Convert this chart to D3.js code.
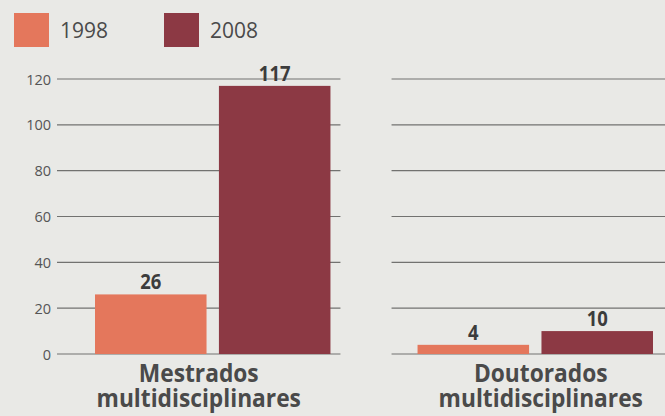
<!DOCTYPE html>
<html><head><meta charset="utf-8">
<script src="https://cdn.jsdelivr.net/npm/d3@7"></script>
<style>
html,body{margin:0;padding:0;background:#e9e9e6;}
svg{display:block;}
</style></head>
<body>
<svg id="c" width="665" height="416"></svg>
<script>
const categories = ["Mestrados multidisciplinares", "Doutorados multidisciplinares"];
const seriesNames = ["1998", "2008"];
const values1998 = [26, 4];
const values2008 = [117, 10];
const yTicks = [0, 20, 40, 60, 80, 100, 120];
const colors = ["#e4775c", "#8c3944"];

const svg = d3.select("#c");
const W = 665, H = 416;
svg.append("rect").attr("width", W).attr("height", H).attr("fill", "#e9e9e6");

const y = d3.scaleLinear().domain([0, 120]).range([354, 79]);
const x0 = d3.scaleBand().domain(categories).range([95, 653]).paddingInner(0.27).paddingOuter(0);
const x1 = d3.scaleBand().domain(seriesNames).range([0, x0.bandwidth()]).paddingInner(0.1);

const data = categories.map((c, i) => ({cat: c, vals: [values1998[i], values2008[i]], i}));

// gridlines per panel (panel extents relative to band)
const gridExt = [[-38, 10], [-26, 37]];
categories.forEach((c, i) => {
  const g = svg.append("g");
  g.selectAll("line").data(yTicks).join("line")
    .attr("x1", x0(c) + gridExt[i][0])
    .attr("x2", x0(c) + x0.bandwidth() + gridExt[i][1])
    .attr("y1", d => y(d)).attr("y2", d => y(d))
    .attr("stroke", "#727270").attr("stroke-width", 1.2);
});

// y axis labels
const yAxis = d3.axisLeft(y).tickValues(yTicks).tickSize(0).tickPadding(0);
const ga = svg.append("g").attr("transform", "translate(51,0)").call(yAxis);
ga.select(".domain").remove();
ga.selectAll("text").attr("font-family", "'Open Sans', sans-serif").attr("font-size", 14.5)
  .attr("fill", "#555").attr("dy", "0.35em");

// bars
const groups = svg.selectAll("g.cat").data(data).join("g").attr("class", "cat")
  .attr("transform", d => `translate(${x0(d.cat)},0)`);
groups.selectAll("rect").data(d => d.vals.map((v, j) => ({s: seriesNames[j], v, j})))
  .join("rect")
  .attr("x", d => x1(d.s)).attr("width", x1.bandwidth())
  .attr("y", d => y(d.v)).attr("height", d => y(0) - y(d.v))
  .attr("fill", d => colors[d.j]);
groups.selectAll("text.val").data(d => d.vals.map((v, j) => ({s: seriesNames[j], v, j})))
  .join("text").attr("class", "val")
  .attr("x", d => x1(d.s) + x1.bandwidth() / 2)
  .attr("y", d => y(d.v) - 5)
  .attr("text-anchor", "middle")
  .attr("font-family", "'Open Sans', sans-serif").attr("font-weight", 700)
  .attr("font-size", 21).attr("fill", "#3c3c3c")
  .attr("transform", d => { const cx = x1(d.s) + x1.bandwidth() / 2; return `translate(${cx},0) scale(0.88,1) translate(${-cx},0)`; })
  .text(d => d.v);

// category labels, centred on each panel
groups.each(function(d) {
  const g = d3.select(this);
  const ext = gridExt[d.i];
  const cx = ext[0] + (x0.bandwidth() + ext[1] - ext[0]) / 2;
  const words = d.cat.split(" ");
  [382, 407].forEach((yy, k) => {
    g.append("text").attr("text-anchor", "middle")
      .attr("font-family", "'Open Sans', sans-serif").attr("font-weight", 700)
      .attr("font-size", 25).attr("fill", "#4a4a4a")
      .attr("transform", `translate(${cx},${yy}) scale(0.91,1)`)
      .text(words[k]);
  });
});

// legend
const leg = svg.append("g");
const legX = [14, 164];
seriesNames.forEach((s, i) => {
  leg.append("rect").attr("x", legX[i]).attr("y", 13).attr("width", 35).attr("height", 34).attr("fill", colors[i]);
  leg.append("text").attr("x", legX[i] + 46).attr("y", 38)
    .attr("font-family", "'Open Sans', sans-serif").attr("font-size", 21).attr("fill", "#4a4a4a").text(s);
});
</script>
</body></html>
